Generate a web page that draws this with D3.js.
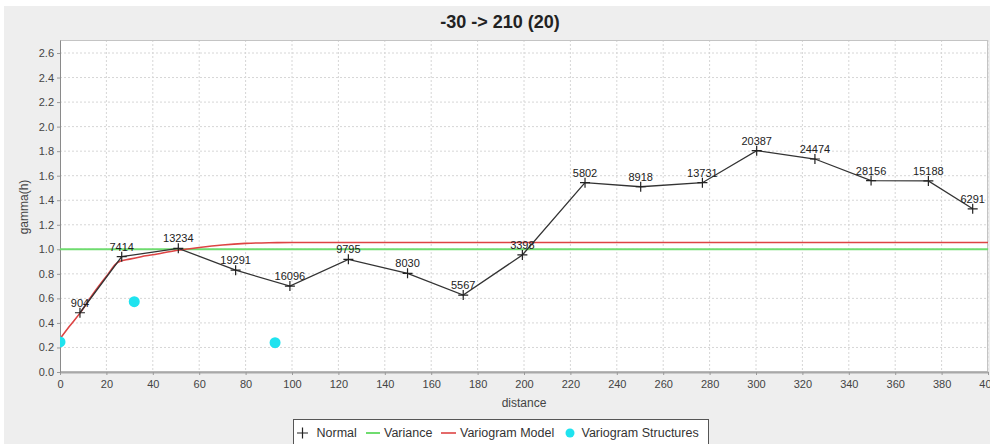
<!DOCTYPE html>
<html>
<head>
<meta charset="utf-8">
<script src="https://cdn.jsdelivr.net/npm/d3@7"></script>
<style>
  body { margin: 0; background: #ffffff; }
  svg { display: block; font-family: "Liberation Sans", Arial, sans-serif; }
</style>
</head>
<body>
<svg id="mySVG" width="990" height="444"></svg>
<script>
// lag distances and semivariances of the experimental variogram
const dist = [8.6, 26.6, 51.0, 75.7, 99.1, 124.3, 149.8, 173.8, 199.3, 226.3, 250.3, 276.9, 300.3, 325.4, 349.6, 374.3, 393.4];
const gammaVals = [0.483, 0.94, 1.008, 0.83, 0.70, 0.918, 0.804, 0.627, 0.954, 1.543, 1.51, 1.543, 1.804, 1.736, 1.56, 1.557, 1.33];
const pairs = ["904", "7414", "13234", "19291", "16096", "9795", "8030", "5567", "3398", "5802", "8918", "13731", "20387", "24474", "28156", "15188", "6291"];

const variance = 1.0;

// fitted model
const modelDist = [0, 4, 9, 14, 20, 25, 30, 35, 40, 50, 60, 70, 80, 90, 100, 400];
const modelGamma = [0.27, 0.37, 0.49, 0.63, 0.78, 0.895, 0.92, 0.94, 0.955, 0.99, 1.015, 1.035, 1.048, 1.054, 1.055, 1.055];

// structure points
const structDist = [0, 32, 92.7];
const structGamma = [0.245, 0.573, 0.239];

const xTicks = d3.range(0, 401, 20);
const yTicks = d3.range(0, 2.61, 0.2);

const title = "-30 -> 210 (20)";
const legendNames = ["Normal", "Variance", "Variogram Model", "Variogram Structures"];

const L = 60, R = 988, T = 40, B = 372;

const svg = d3.select('#mySVG');

svg.append('rect')
    .attr('x', 4).attr('y', 6)
    .attr('width', 986).attr('height', 438)
    .attr('fill', '#eeeeee');

svg.append('rect')
    .attr('x', L).attr('y', T)
    .attr('width', R - L).attr('height', B - T)
    .attr('fill', '#ffffff');

const x = d3.scaleLinear().domain([0, 400]).range([L, R]);
const y = d3.scaleLinear().domain([0, 2.706]).range([B, T]);

// grid
svg.append('g').selectAll('line').data(xTicks.slice(1))
    .join('line')
    .attr('x1', d => x(d)).attr('x2', d => x(d))
    .attr('y1', T).attr('y2', B)
    .attr('stroke', '#d6d6d6').attr('stroke-dasharray', '2,2');

svg.append('g').selectAll('line').data(yTicks.slice(1))
    .join('line')
    .attr('x1', L).attr('x2', R)
    .attr('y1', d => y(d)).attr('y2', d => y(d))
    .attr('stroke', '#d6d6d6').attr('stroke-dasharray', '2,2');

// plot border
svg.append('rect')
    .attr('x', L + 0.5).attr('y', T + 0.5)
    .attr('width', R - L - 1).attr('height', B - T - 1)
    .attr('fill', 'none').attr('stroke', '#c4c4c4');

// axes
const xAxis = svg.append('g')
    .attr('transform', `translate(0,${B})`)
    .call(d3.axisBottom(x).tickValues(xTicks).tickSize(3).tickSizeOuter(0).tickFormat(d3.format('d')));
const yAxis = svg.append('g')
    .attr('transform', `translate(${L},0)`)
    .call(d3.axisLeft(y).tickValues(yTicks).tickSize(3).tickSizeOuter(0).tickFormat(d3.format('.1f')));

xAxis.select('.domain').attr('stroke', '#a8a8a8').attr('stroke-width', 2);
yAxis.select('.domain').attr('stroke', '#8a8a8a');
svg.selectAll('.tick line').attr('stroke', '#999999');
svg.selectAll('.tick text')
    .attr('fill', '#444444')
    .attr('font-size', '11px')
    .attr('font-family', '"Liberation Sans", Arial, sans-serif');
xAxis.selectAll('.tick text').attr('dy', '0.95em');

// clip
svg.append('clipPath').attr('id', 'plotClip')
    .append('rect').attr('x', L).attr('y', T).attr('width', R - L).attr('height', B - T);
const plot = svg.append('g').attr('clip-path', 'url(#plotClip)');

// variance
plot.append('line')
    .attr('x1', x(0)).attr('x2', x(400))
    .attr('y1', y(variance)).attr('y2', y(variance))
    .attr('stroke', '#6fdc6f').attr('stroke-width', 2);

// model
const modelPts = modelDist.map((d, i) => [d, modelGamma[i]]);
plot.append('path')
    .attr('d', d3.line().x(d => x(d[0])).y(d => y(d[1])).curve(d3.curveMonotoneX)(modelPts))
    .attr('fill', 'none')
    .attr('stroke', '#dd4444')
    .attr('stroke-width', 1.6);

// experimental variogram
const pts = dist.map((d, i) => [d, gammaVals[i], pairs[i]]);
plot.append('path')
    .attr('d', d3.line().x(d => x(d[0])).y(d => y(d[1]))(pts))
    .attr('fill', 'none')
    .attr('stroke', '#333333')
    .attr('stroke-width', 1.3);

plot.selectAll('path.cross').data(pts)
    .join('path')
    .attr('class', 'cross')
    .attr('d', d => `M${x(d[0]) - 5},${y(d[1])}H${x(d[0]) + 5}M${x(d[0])},${y(d[1]) - 5}V${y(d[1]) + 5}`)
    .attr('stroke', '#222222')
    .attr('stroke-width', 1.2);

plot.selectAll('text.lbl').data(pts)
    .join('text')
    .attr('class', 'lbl')
    .attr('x', d => x(d[0]))
    .attr('y', d => y(d[1]) - 6)
    .attr('text-anchor', 'middle')
    .attr('font-size', '11px')
    .attr('fill', '#222222')
    .text(d => d[2]);

// structures
plot.selectAll('circle').data(structDist.map((d, i) => [d, structGamma[i]]))
    .join('circle')
    .attr('cx', d => x(d[0]))
    .attr('cy', d => y(d[1]))
    .attr('r', 5.5)
    .attr('fill', '#1fe3ef');

// title and axis labels
svg.append('text')
    .attr('x', 500).attr('y', 28)
    .attr('text-anchor', 'middle')
    .attr('font-size', '18px')
    .attr('font-weight', 'bold')
    .attr('fill', '#222222')
    .text(title);

svg.append('text')
    .attr('transform', 'translate(28,207) rotate(-90)')
    .attr('text-anchor', 'middle')
    .attr('font-size', '12px')
    .attr('fill', '#444444')
    .text('gamma(h)');

svg.append('text')
    .attr('x', 524).attr('y', 407)
    .attr('text-anchor', 'middle')
    .attr('font-size', '12px')
    .attr('fill', '#444444')
    .text('distance');

// legend
const lg = svg.append('g');
lg.append('rect')
    .attr('x', 293.5).attr('y', 419.5)
    .attr('width', 415).attr('height', 40)
    .attr('fill', '#ffffff')
    .attr('stroke', '#555555');

const ly = 437, lmid = 433;
lg.append('path')
    .attr('d', `M297,${lmid}H308M302.5,${lmid - 5.5}V${lmid + 5.5}`)
    .attr('stroke', '#222222').attr('stroke-width', 1.2);
lg.append('line').attr('x1', 366).attr('x2', 380).attr('y1', lmid).attr('y2', lmid)
    .attr('stroke', '#6fdc6f').attr('stroke-width', 2);
lg.append('line').attr('x1', 441).attr('x2', 456).attr('y1', lmid).attr('y2', lmid)
    .attr('stroke', '#dd4444').attr('stroke-width', 1.6);
lg.append('circle').attr('cx', 570).attr('cy', lmid).attr('r', 4.5).attr('fill', '#1fe3ef');

const lx = [316.5, 384, 460, 581.5];
lg.selectAll('text').data(legendNames)
    .join('text')
    .attr('x', (d, i) => lx[i])
    .attr('y', ly)
    .attr('font-size', '12.5px')
    .attr('fill', '#333333')
    .text(d => d);
</script>
</body>
</html>
